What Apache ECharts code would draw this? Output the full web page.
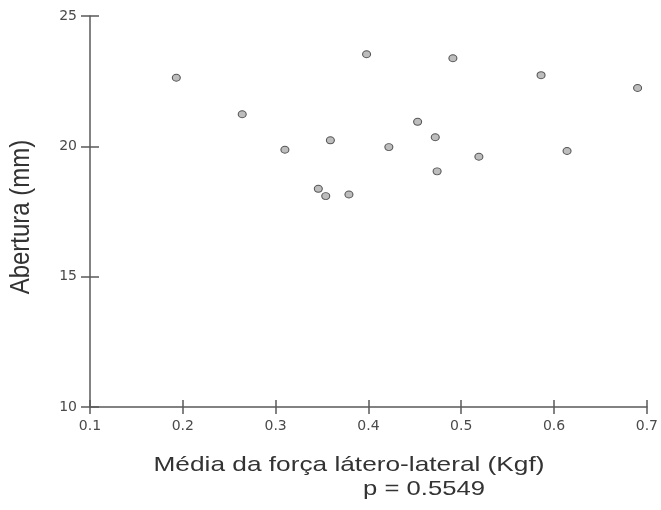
<!DOCTYPE html>
<html>
<head>
<meta charset="utf-8">
<script src="https://cdn.jsdelivr.net/npm/echarts@6/dist/echarts.min.js"></script>
<style>html,body{margin:0;padding:0;background:#fff}#c{width:661px;height:510px}</style>
</head>
<body>
<div id="c"></div>
<script>
var forceX = [0.193, 0.264, 0.310, 0.346, 0.354, 0.359, 0.379, 0.398, 0.422, 0.453, 0.472, 0.474, 0.491, 0.519, 0.586, 0.614, 0.690];
var aberturaY = [22.63, 21.23, 19.87, 18.37, 18.09, 20.23, 18.15, 23.53, 19.97, 20.94, 20.35, 19.04, 23.38, 19.60, 22.73, 19.82, 22.24];
var xTitle = 'Média da força látero-lateral (Kgf)';
var pText = 'p = 0.5549';
var yTitle = 'Abertura (mm)';

var pts = forceX.map(function (v, i) { return [v, aberturaY[i]]; });
var FONT = '"Liberation Sans", Arial, sans-serif';
var TICKFONT = '"DejaVu Sans", sans-serif';
var lineColor = '#5a5a5a';

var chart = echarts.init(document.getElementById('c'));
var xBase = { type: 'value', min: 0.1, max: 0.7, interval: 0.1, gridIndex: 0 };
var yBase = { type: 'value', min: 10, max: 25, interval: 5, gridIndex: 0 };
chart.setOption({
  animation: false,
  backgroundColor: '#fff',
  grid: { left: 90, right: 13, top: 16, bottom: 103 },
  xAxis: [
    Object.assign({}, xBase, {
      position: 'bottom',
      splitLine: { show: false },
      axisLine: { lineStyle: { color: lineColor, width: 1.5 } },
      axisTick: { inside: false, length: 7, lineStyle: { color: lineColor, width: 1.5 } },
      axisLabel: { margin: 12, color: '#4a4a4a', fontSize: 14, fontFamily: TICKFONT,
        formatter: function (v) { return v.toFixed(1); } }
    }),
    Object.assign({}, xBase, {
      position: 'bottom',
      splitLine: { show: false },
      axisLine: { show: false },
      axisTick: { inside: true, length: 7, lineStyle: { color: lineColor, width: 1.5 } },
      axisLabel: { show: false }
    })
  ],
  yAxis: [
    Object.assign({}, yBase, {
      position: 'left',
      splitLine: { show: false },
      axisLine: { show: true, lineStyle: { color: lineColor, width: 1.5 } },
      axisTick: { show: true, inside: false, length: 9, lineStyle: { color: lineColor, width: 1.5 } },
      axisLabel: { margin: 13, color: '#4a4a4a', fontSize: 14, fontFamily: TICKFONT }
    }),
    Object.assign({}, yBase, {
      position: 'left',
      splitLine: { show: false },
      axisLine: { show: false },
      axisTick: { show: true, inside: true, length: 9, lineStyle: { color: lineColor, width: 1.5 } },
      axisLabel: { show: false }
    })
  ],
  series: [{
    type: 'scatter',
    xAxisIndex: 0,
    yAxisIndex: 0,
    data: pts,
    symbol: 'circle',
    symbolSize: [8, 7],
    itemStyle: { color: '#bdbdbd', borderColor: '#555', borderWidth: 1, opacity: 1 }
  }],
  graphic: [
    { type: 'text', x: 349, y: 465, scaleX: 1.25,
      style: { text: xTitle, font: '21px ' + FONT, fill: '#333', align: 'center', verticalAlign: 'middle' } },
    { type: 'text', x: 424, y: 489, scaleX: 1.22,
      style: { text: pText, font: '21px ' + FONT, fill: '#333', align: 'center', verticalAlign: 'middle' } },
    { type: 'text', x: 22, y: 217, rotation: Math.PI / 2, scaleY: 1.12,
      style: { text: yTitle, font: '24px ' + FONT, fill: '#333', align: 'center', verticalAlign: 'middle' } }
  ]
});
</script>
</body>
</html>
